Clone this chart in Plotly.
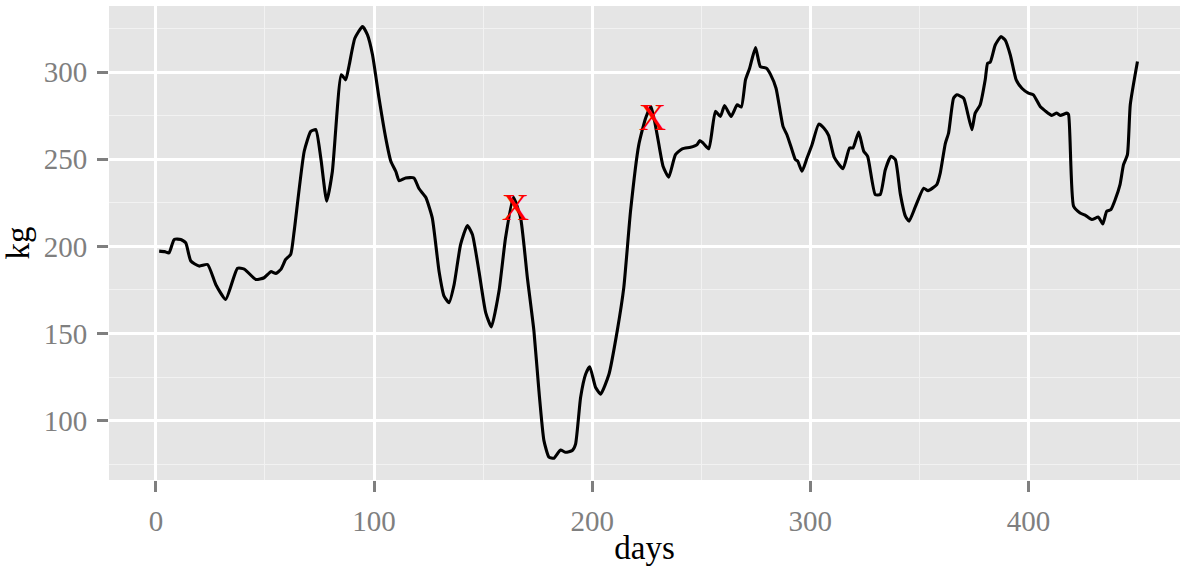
import plotly.graph_objects as go

# Daily weight series (days since start, kg)
days = [1.5, 4, 6, 8.4, 11.4, 13.7, 16, 19.8, 23.7, 27.5, 32, 37.4, 40.5, 45.8, 49.6,
        52.7, 55, 57.3, 59.5, 61.8, 63.4, 68, 71, 73.3, 75.6, 78.3, 80.9, 85, 87, 88.6,
        91.2, 94.7, 97, 99.3, 102.3, 105.4, 107.7, 110, 111.5, 114.5, 118.3, 120.6, 123.7,
        126.7, 129.8, 132.1, 134.4, 136.7, 139.7, 142.8, 145.1, 148.1, 151.2, 153.8, 157.3,
        160.3, 163.9, 167.2, 170.3, 173.3, 175.6, 177.9, 180.2, 182.5, 185.5, 187.8, 190.9,
        192.4, 194.7, 197, 198.9, 201.6, 203.9, 207.7, 211.5, 214.5, 217.6, 221.4, 224.5,
        227, 229.8, 232.5, 235.1, 238.2, 241.3, 245.1, 248.1, 249.3, 250.9, 253.5, 256.5,
        258.8, 260.7, 263.7, 266.5, 268.4, 270.3, 272.2, 274.9, 277.1, 279.9, 281.7, 284.3,
        287.5, 289.3, 291.6, 293.2, 294.2, 296.2, 298.5, 300.8, 303.9, 306.2, 308.4, 311,
        315, 318, 319.6, 322.2, 324.5, 326.3, 329.8, 332.1, 334.4, 337, 339, 341.3, 343.6,
        345.3, 348.1, 352, 354, 358, 359.6, 361.9, 363.4, 365.7, 367.2, 370.3, 371.8, 374.1,
        375.6, 377.9, 380.2, 381.3, 382.5, 384.8, 387.4, 389.3, 391.7, 394.4, 397, 400,
        402.3, 405.4, 407.7, 410.7, 413, 414.6, 417.6, 418.4, 420.7, 423.7, 426, 429.1,
        432.1, 434.1, 435.9, 437.8, 439.8, 442, 443.6, 445.4, 446.7, 450]
kg = [197.3, 197, 196.3, 204, 204, 202, 191.6, 188.7, 189.6, 178, 169.6, 187.4, 187, 181, 182,
      185.5, 184.5, 186.8, 192.5, 195.4, 208.8, 254.6, 266, 267, 250.7, 226, 243, 298.5, 295.6, 304,
      319.5, 326.2, 321.4, 310, 285, 262, 248.9, 243, 237.7, 239.3, 239.3, 233.2, 228.2,
      216.4, 185.8, 171.5, 167.7, 178, 201.1, 212, 206.8, 185.8, 162, 153.8, 174.4,
      204.9, 228.2, 216.4, 182, 151.5, 117, 88.5, 79, 78.4, 83.1, 81.8, 82.8,
      86.5, 113.3, 126.6, 130.9, 119, 115.2, 126.6, 151.5, 176.3, 220.2, 258.4, 273.6,
      280.3, 264.1, 246, 239.7, 252.7, 256, 256.9, 258.4, 260.7, 259.3, 256, 277.5,
      274.6, 280.9, 274.6, 281.3, 280, 295.6, 302.3, 314.1, 303.2, 302.3, 298.9, 290.8,
      268.9, 264.1, 255.5, 249.8, 249, 243.1, 250.7, 258.4, 270.2, 268, 263.7, 251.1,
      244.6, 256.5, 256.5, 265.6, 254.6, 251.7, 229.7, 229.8, 244, 251.7, 249.8, 230, 217.4,
      214.5, 222.5, 233.4, 232, 235.5, 242.2, 259, 265.1, 285.1, 287, 285.1, 278.4, 267,
      276.5, 281.3, 295.6, 305.2, 305.7, 315.6, 320.4, 318.5, 309.9, 295.6, 290.8, 288,
      287, 280.3, 277.8, 275.2, 276.5, 275.2, 276.5, 275.7, 223.1, 219.2, 217.9, 215.4,
      216.8, 212.9, 220.2, 221.1, 226.9, 235.5, 246.9, 252.7, 281.3, 306.1]

# Marked points
mark_days = [164.8, 227.7]
mark_kg = [220.8, 272.2]
mark_labels = ["X", "X"]

serif = "Liberation Serif"

fig = go.Figure()
fig.add_trace(go.Scatter(
    x=days, y=kg, mode="lines",
    line=dict(color="black", width=3.1, shape="spline", smoothing=0.5),
    hoverinfo="skip", showlegend=False,
))
fig.add_trace(go.Scatter(
    x=mark_days, y=mark_kg, mode="text", text=mark_labels,
    textposition="middle center",
    textfont=dict(family=serif, size=38, color="#ff0000"),
    showlegend=False,
))

axis_common = dict(
    showgrid=True, gridcolor="white", gridwidth=2.7,
    zeroline=False, showline=False,
    ticks="outside", ticklen=11, tickwidth=3, tickcolor="#7f7f7f",
    tickfont=dict(family=serif, size=29, color="#7f7f7f"),
    ticklabelstandoff=4,
)

fig.update_layout(
    width=1180, height=566,
    margin=dict(l=109, r=0, t=6, b=83),
    paper_bgcolor="white", plot_bgcolor="#e5e5e5",
    xaxis=dict(
        range=[-21.5, 469.5], tick0=0, dtick=100,
        minor=dict(dtick=50, tick0=0, showgrid=True, gridcolor="#f2f2f2", gridwidth=1.2, ticks=""),
        title=dict(text="days", font=dict(family=serif, size=33, color="black"), standoff=6),
        **axis_common,
    ),
    yaxis=dict(
        range=[65.9, 338.0], tick0=0, dtick=50,
        minor=dict(dtick=25, tick0=0, showgrid=True, gridcolor="#f2f2f2", gridwidth=1.2, ticks=""),
        title=dict(text="kg", font=dict(family=serif, size=33, color="black"), standoff=5),
        **axis_common,
    ),
)

fig.write_html("out.html")
